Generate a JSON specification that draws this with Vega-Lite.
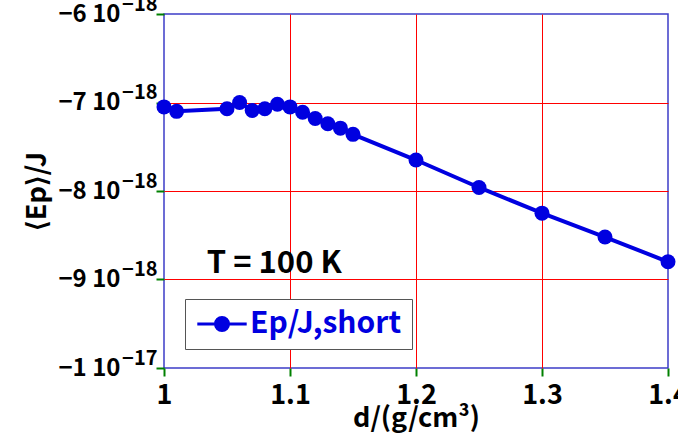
{
  "$schema": "https://vega.github.io/schema/vega-lite/v6.json",
  "width": 504,
  "height": 354,
  "autosize": {"type": "none"},
  "padding": {"left": 164, "top": 14, "right": 10, "bottom": 71},
  "background": "white",
  "config": {
    "view": {"stroke": "#3c3cc8", "strokeWidth": 1.5},
    "axis": {"grid": false, "domain": false, "labelOverlap": false, "labelBound": false, "tickColor": "#3c3cc8", "tickWidth": 1.5}
  },
  "data": {
    "values": [
      {"d": 1.00, "Ep": -7.05e-18, "series": "Ep/J,short"},
      {"d": 1.01, "Ep": -7.10e-18, "series": "Ep/J,short"},
      {"d": 1.05, "Ep": -7.07e-18, "series": "Ep/J,short"},
      {"d": 1.06, "Ep": -7.00e-18, "series": "Ep/J,short"},
      {"d": 1.07, "Ep": -7.09e-18, "series": "Ep/J,short"},
      {"d": 1.08, "Ep": -7.07e-18, "series": "Ep/J,short"},
      {"d": 1.09, "Ep": -7.02e-18, "series": "Ep/J,short"},
      {"d": 1.10, "Ep": -7.05e-18, "series": "Ep/J,short"},
      {"d": 1.11, "Ep": -7.11e-18, "series": "Ep/J,short"},
      {"d": 1.12, "Ep": -7.18e-18, "series": "Ep/J,short"},
      {"d": 1.13, "Ep": -7.24e-18, "series": "Ep/J,short"},
      {"d": 1.14, "Ep": -7.29e-18, "series": "Ep/J,short"},
      {"d": 1.15, "Ep": -7.36e-18, "series": "Ep/J,short"},
      {"d": 1.20, "Ep": -7.65e-18, "series": "Ep/J,short"},
      {"d": 1.25, "Ep": -7.96e-18, "series": "Ep/J,short"},
      {"d": 1.30, "Ep": -8.25e-18, "series": "Ep/J,short"},
      {"d": 1.35, "Ep": -8.52e-18, "series": "Ep/J,short"},
      {"d": 1.40, "Ep": -8.80e-18, "series": "Ep/J,short"}
    ]
  },
  "layer": [
    {
      "mark": {"type": "line", "strokeWidth": 4},
      "encoding": {
        "x": {
          "field": "d", "type": "quantitative",
          "scale": {"domain": [1, 1.4], "nice": false, "zero": false},
          "axis": {
            "orient": "bottom",
            "values": [1, 1.1, 1.2, 1.3, 1.4],
            "ticks": true,
            "tickSize": 8,
            "tickColor": "green",
            "tickWidth": 2,
            "labelExpr": "format(datum.value, '.1~f')",
            "labelFlush": false,
            "labelPadding": 6,
            "labelFont": "Noto Sans CJK JP", "labelFontWeight": "bold", "labelFontSize": 27, "labelColor": "black",
            "title": "d/(g/cm³)",
            "titleFont": "Noto Sans CJK JP", "titleFontWeight": "bold", "titleFontSize": 27, "titleColor": "black",
            "titlePadding": -3
          }
        },
        "y": {
          "field": "Ep", "type": "quantitative",
          "scale": {"domain": [-1e-17, -6e-18], "nice": false, "zero": false},
          "axis": {
            "orient": "left",
            "values": [-1e-17, -9e-18, -8e-18, -7e-18, -6e-18],
            "ticks": true,
            "tickSize": 8,
            "tickColor": "green",
            "tickWidth": 2,
            "labelExpr": "round(datum.value*1e18) == -10 ? '−1 10' : '−' + abs(round(datum.value*1e18)) + ' 10'",
            "labelPadding": 36,
            "labelFont": "Noto Sans CJK JP", "labelFontWeight": "bold", "labelFontSize": 24, "labelColor": "black",
            "title": "⟨Ep⟩/J",
            "titleFont": "Noto Sans CJK JP", "titleFontWeight": "bold", "titleFontSize": 27, "titleColor": "black",
            "titlePadding": 6
          }
        },
        "color": {
          "field": "series", "type": "nominal",
          "scale": {"domain": ["Ep/J,short"], "range": ["#0000e0"]},
          "legend": {
            "title": null,
            "orient": "none",
            "legendX": 21,
            "legendY": 285,
            "padding": 10,
            "symbolOffset": 12,
            "strokeColor": "#555555",
            "fillColor": "white",
            "symbolType": "M-1.9,0L1.9,0M-0.5,0A0.5,0.5,0,1,1,0.5,0A0.5,0.5,0,1,1,-0.5,0",
            "symbolSize": 676,
            "symbolStrokeWidth": 3,
            "symbolFillColor": "#0000e0",
            "symbolStrokeColor": "#0000e0",
            "labelOffset": 13,
            "labelFont": "Noto Sans CJK JP", "labelFontWeight": "bold", "labelFontSize": 30, "labelColor": "#0000e0"
          }
        }
      }
    },
    {
      "mark": {"type": "point", "shape": "circle", "filled": true, "opacity": 1, "size": 225},
      "encoding": {
        "x": {
          "field": "d", "type": "quantitative",
          "axis": {
            "orient": "top",
            "values": [1.1, 1.2, 1.3],
            "tickSize": -354,
            "tickColor": "red",
            "tickWidth": 1,
            "labels": false, "title": null
          }
        },
        "y": {
          "field": "Ep", "type": "quantitative",
          "axis": {
            "orient": "right",
            "values": [-9e-18, -8e-18, -7e-18],
            "tickSize": -504,
            "tickColor": "red",
            "tickWidth": 1,
            "labels": false, "title": null
          }
        },
        "color": {"field": "series", "type": "nominal"}
      }
    },
    {
      "data": {"values": [{"d": 1.034, "Ep": -8.93e-18, "note": "T = 100 K"}]},
      "mark": {"type": "text", "align": "left", "baseline": "alphabetic", "font": "Noto Sans CJK JP", "fontWeight": "bold", "fontSize": 31, "color": "black"},
      "encoding": {
        "x": {"field": "d", "type": "quantitative", "axis": null},
        "y": {
          "field": "Ep", "type": "quantitative",
          "axis": {
            "orient": "left",
            "values": [-1e-17, -9e-18, -8e-18, -7e-18, -6e-18],
            "ticks": false,
            "labelExpr": "round(datum.value*1e18) == -10 ? '−17' : '−18'",
            "labelPadding": 7,
            "labelOffset": -10,
            "labelFont": "Noto Sans CJK JP", "labelFontWeight": "bold", "labelFontSize": 20, "labelColor": "black",
            "title": null
          }
        },
        "text": {"field": "note"}
      }
    }
  ],
  "resolve": {"axis": {"x": "independent", "y": "independent"}}
}
